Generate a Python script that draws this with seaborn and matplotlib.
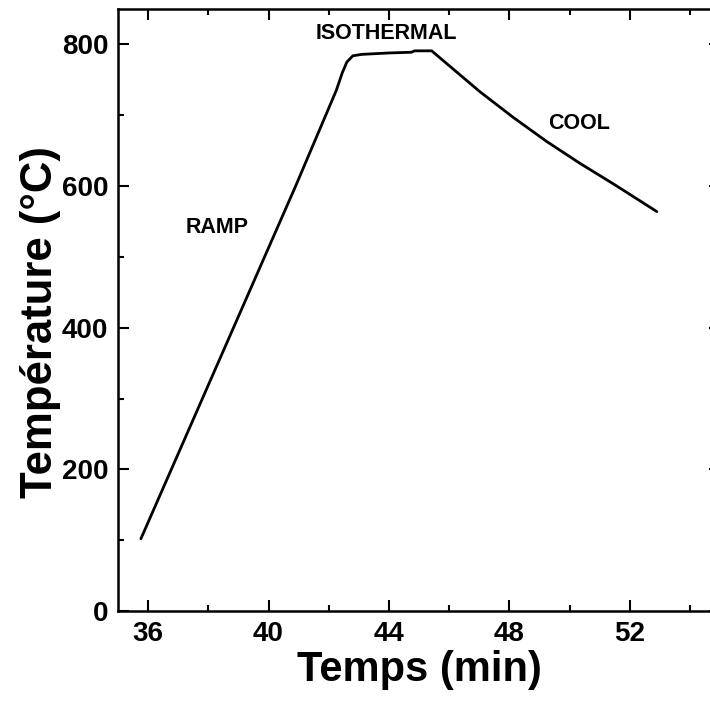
import numpy as np
import pandas as pd
import matplotlib
matplotlib.use('Agg')
import matplotlib.pyplot as plt
from matplotlib.ticker import MultipleLocator
import seaborn as sns

# heating profile
temps_min = [35.76, 40.90, 42.25, 42.45, 42.60, 42.80, 43.10, 44.00, 44.75, 44.85, 45.42,
             46.03, 47.03, 48.13, 49.24, 50.35, 51.46, 52.90]
temp_c = [102, 600, 735, 760, 775, 784, 786, 788, 789, 791, 791,
          769, 733, 697, 663, 632, 603, 564]

phase_labels = ['ISOTHERMAL', 'RAMP', 'COOL']
phase_x = [43.9, 38.3, 50.3]
phase_y = [815, 541, 688]

sns.set_style('ticks')
plt.rcParams['font.family'] = ['Liberation Sans', 'DejaVu Sans']
plt.rcParams['font.weight'] = 'bold'
plt.rcParams['text.color'] = 'black'
plt.rcParams['axes.labelcolor'] = 'black'
plt.rcParams['axes.edgecolor'] = 'black'
plt.rcParams['xtick.color'] = 'black'
plt.rcParams['ytick.color'] = 'black'

df = pd.DataFrame({'t': temps_min, 'T': temp_c})

fig = plt.figure(figsize=(7.10, 7.02), dpi=100)
ax = fig.add_axes([0.1662, 0.1296, 0.848, 0.8575])

sns.lineplot(data=df, x='t', y='T', ax=ax, color='black', linewidth=2.0,
             sort=False, estimator=None)

for lab, x, y in zip(phase_labels, phase_x, phase_y):
    ax.text(x, y, lab, fontsize=15.5, fontweight='bold', ha='center', va='center')

ax.set_xlim(35, 55)
ax.set_ylim(0, 850)
ax.xaxis.set_major_locator(MultipleLocator(4))
ax.xaxis.set_minor_locator(MultipleLocator(2))
ax.yaxis.set_major_locator(MultipleLocator(200))
ax.yaxis.set_minor_locator(MultipleLocator(100))
ax.set_xticks([36, 40, 44, 48, 52])

ax.tick_params(which='both', direction='in', top=True, right=True, width=1.5)
ax.tick_params(which='major', length=8, labelsize=20, pad=7)
ax.tick_params(which='minor', length=4.5)
for lbl in ax.get_xticklabels() + ax.get_yticklabels():
    lbl.set_fontweight('bold')
for sp in ax.spines.values():
    sp.set_linewidth(1.8)
    sp.set_visible(True)

ax.set_xlabel('Temps (min)', fontsize=30, fontweight='bold', labelpad=2)
ax.set_ylabel('Température (°C)', fontsize=31.5, fontweight='bold')
ax.yaxis.set_label_coords(-0.0955, 0.48)

fig.savefig('out.png', dpi=100)
